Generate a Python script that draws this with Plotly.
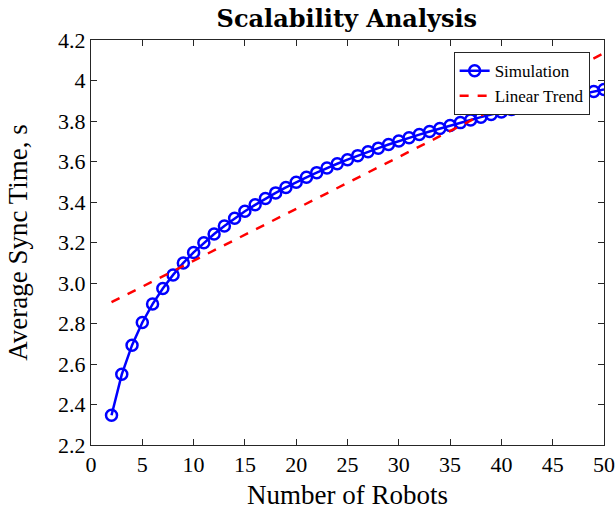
import plotly.graph_objects as go

robots = list(range(2, 51))
sync_time = [2.347, 2.549, 2.693, 2.805, 2.896, 2.973, 3.040, 3.099, 3.151, 3.199,
             3.242, 3.282, 3.320, 3.354, 3.386, 3.417, 3.445, 3.472, 3.498, 3.522,
             3.545, 3.568, 3.589, 3.609, 3.629, 3.648, 3.666, 3.684, 3.701, 3.717,
             3.733, 3.748, 3.763, 3.778, 3.792, 3.805, 3.819, 3.832, 3.844, 3.857,
             3.869, 3.881, 3.892, 3.903, 3.914, 3.925, 3.936, 3.946, 3.956]
trend_x = [2, 50]
trend_y = [2.905, 4.135]

x_ticks = [0, 5, 10, 15, 20, 25, 30, 35, 40, 45, 50]
y_ticks = [2.2, 2.4, 2.6, 2.8, 3.0, 3.2, 3.4, 3.6, 3.8, 4.0, 4.2]
y_labels = ["2.2", "2.4", "2.6", "2.8", "3.0", "3.2", "3.4", "3.6", "3.8", "4", "4.2"]

FONT = "Liberation Serif"

fig = go.Figure()
fig.add_trace(go.Scatter(
    x=robots, y=sync_time, mode="lines+markers", name="Simulation",
    line=dict(color="#0000ff", width=2.5),
    marker=dict(symbol="circle-open", size=11, color="#0000ff", line=dict(width=2.5, color="#0000ff")),
))
fig.add_trace(go.Scatter(
    x=trend_x, y=trend_y, mode="lines", name="Linear Trend",
    line=dict(color="#ff0000", width=2.5, dash="dash"),
))

axis_common = dict(
    showline=True, linecolor="#262626", linewidth=1, mirror="ticks",
    ticks="inside", ticklen=6, tickcolor="#262626", showgrid=False, zeroline=False,
    automargin=False,
    tickfont=dict(family=FONT, size=22, color="#000000"),
)
fig.update_xaxes(range=[0, 50], tickvals=x_ticks, ticktext=[str(v) for v in x_ticks],
                 title=dict(text="Number of Robots", font=dict(family=FONT, size=27, color="#000000"), standoff=8),
                 **axis_common)
fig.update_yaxes(range=[2.2, 4.2], tickvals=y_ticks, ticktext=y_labels,
                 title=dict(text="Average Sync Time, s", font=dict(family=FONT, size=27, color="#000000"), standoff=22),
                 **axis_common)

fig.update_layout(
    width=615, height=512,
    margin=dict(l=91, r=11, t=40, b=67),
    paper_bgcolor="white", plot_bgcolor="white",
    title=dict(text="<b>Scalability Analysis</b>", x=0.564, xanchor="center", y=0.964, yanchor="middle",
               font=dict(family="DejaVu Serif", size=24, color="#000000")),
    legend=dict(x=0.972, y=0.97, xanchor="right", yanchor="top",
                bgcolor="white", bordercolor="#262626", borderwidth=1,
                font=dict(family=FONT, size=17, color="#000000"),
                tracegroupgap=0, itemwidth=30),
    showlegend=True,
)

fig.write_html("out.html")
